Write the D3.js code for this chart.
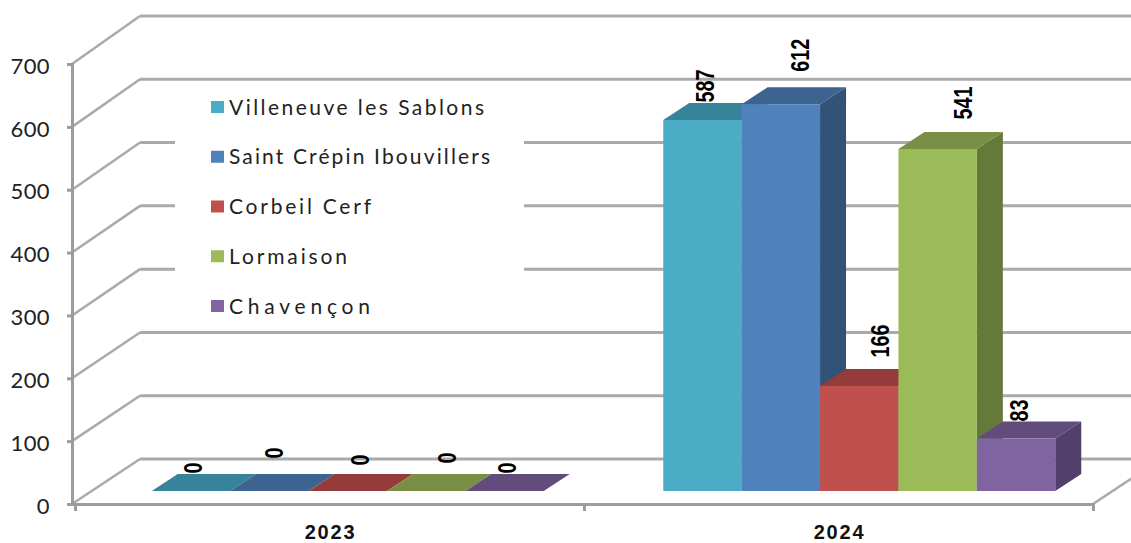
<!DOCTYPE html>
<html>
<head>
<meta charset="utf-8">
<script src="https://cdn.jsdelivr.net/npm/d3@7"></script>
<style>
  html, body { margin: 0; padding: 0; background: #fff; }
  svg { display: block; }
  .soft { filter: blur(0.6px); }
</style>
</head>
<body>
<div id="chart"></div>
<script>
// Data
var years = ['2023', '2024'];
var towns = ['Villeneuve les Sablons', 'Saint Crépin Ibouvillers', 'Corbeil Cerf', 'Lormaison', 'Chavençon'];
var values2023 = [0, 0, 0, 0, 0];
var values2024 = [587, 612, 166, 541, 83];
var yTicks = [0, 100, 200, 300, 400, 500, 600, 700];

// Color constants
var FRONT = ['#4BACC6', '#4F81BD', '#C0504D', '#9BBB59', '#8064A2'];
var TOP   = ['#37839A', '#3D6491', '#943C3A', '#788F45', '#624C7C'];
var SIDE  = ['#2F7085', '#325278', '#7E3230', '#657A3A', '#533F6B'];
var GRID = '#aaaaaa', AXIS = '#9c9c9c', TEXT = '#222';

// Size constants
var WIDTH = 1131, HEIGHT = 543,
    WALL_DX = 68,                  // depth of the floor
    BAR_DX = 26, BAR_DY = -17;     // depth of one bar

// Hand placed data labels, offset from the centre of the bar top
var LABEL_NUDGE = [
  [[2, -23], [5, -38], [12, -31], [21, -33], [2, -23]],
  [[2, -34], [19, -49], [21, -45], [25, -46], [3, -28]]
];
// Legend text is stretched to these widths, px
var LEGEND_WIDTHS = [255, 261, 142, 118, 141];

var svg = d3.select('#chart').append('svg')
  .attr('width', WIDTH)
  .attr('height', HEIGHT);

var y = d3.scaleLinear().domain([0, 700]).range([504, 64]);
var yBack = d3.scaleLinear().domain([0, 700]).range([459, 16]);
var yBar = d3.scaleLinear().domain([0, 700]).range([491, 48.6]);
var xAxisScale = d3.scaleBand().domain(years).range([75, 1093]);
var xBar = d3.scaleBand().domain(years).range([92, 1115]);
var xTown = d3.scaleBand().domain(towns).range([0, 392]);

// Walls: gridlines along the back, diagonals down to the axis
var walls = svg.append('g').attr('class', 'soft');
walls.selectAll('line.back').data(yTicks).enter().append('line')
  .attr('class', 'back')
  .attr('x1', 72 + WALL_DX).attr('x2', WIDTH)
  .attr('y1', function(d) { return yBack(d); })
  .attr('y2', function(d) { return yBack(d); })
  .attr('stroke', GRID).attr('stroke-width', 3);
walls.selectAll('line.diag').data(yTicks).enter().append('line')
  .attr('class', 'diag')
  .attr('x1', 72).attr('x2', 72 + WALL_DX)
  .attr('y1', function(d) { return y(d); })
  .attr('y2', function(d) { return yBack(d); })
  .attr('stroke', GRID).attr('stroke-width', 2.5);
walls.append('line')
  .attr('x1', 1093).attr('y1', y(0))
  .attr('x2', 1093 + WALL_DX).attr('y2', yBack(0))
  .attr('stroke', GRID).attr('stroke-width', 2.5);

// Axes
var yAxis = svg.append('g').attr('class', 'soft')
  .attr('transform', 'translate(72,0)')
  .call(d3.axisLeft(y).tickValues(yTicks).tickSize(5).tickPadding(0).tickFormat(''));
var xAxis = svg.append('g').attr('class', 'soft')
  .attr('transform', 'translate(0,' + y(0) + ')')
  .call(d3.axisBottom(d3.scalePoint().domain(['a', 'b', 'c']).range([75, 1093])).tickSize(7).tickFormat(''));
yAxis.selectAll('path, line').attr('stroke', AXIS).attr('stroke-width', 3);
xAxis.selectAll('path, line').attr('stroke', AXIS).attr('stroke-width', 3);

svg.append('g').selectAll('text').data(yTicks).enter().append('text')
  .attr('x', 50)
  .attr('y', function(d) { return y(d); })
  .attr('dy', '0.44em')
  .attr('text-anchor', 'end')
  .attr('font-family', 'Lato')
  .attr('font-size', '22px')
  .attr('letter-spacing', '0.4px')
  .attr('fill', TEXT)
  .text(function(d) { return d; });

svg.append('g').selectAll('text').data(years).enter().append('text')
  .attr('x', function(d) { return xAxisScale(d) + xAxisScale.bandwidth() / 2 + 1; })
  .attr('y', 539)
  .attr('text-anchor', 'middle')
  .attr('font-family', 'Liberation Sans')
  .attr('font-weight', 'bold')
  .attr('font-size', '20px')
  .attr('letter-spacing', '1.8px')
  .attr('fill', '#111')
  .text(function(d) { return d; });

// Bars, left to right so each one covers the side of the previous one
function facePath(x0, x1, yTop, yBase, part) {
  var p = d3.path();
  if (part === 'top') {
    p.moveTo(x0, yTop);
    p.lineTo(x0 + BAR_DX, yTop + BAR_DY);
    p.lineTo(x1 + BAR_DX, yTop + BAR_DY);
    p.lineTo(x1, yTop);
  } else if (part === 'side') {
    p.moveTo(x1, yTop);
    p.lineTo(x1 + BAR_DX, yTop + BAR_DY);
    p.lineTo(x1 + BAR_DX, yBase + BAR_DY);
    p.lineTo(x1, yBase);
  } else {
    p.rect(x0, yTop, x1 - x0, yBase - yTop);
  }
  p.closePath();
  return p.toString();
}

var bars = svg.append('g').attr('class', 'soft');
[values2023, values2024].forEach(function(values, yearIdx) {
  var start = xBar(years[yearIdx]) + (xBar.bandwidth() - 392) / 2;
  values.forEach(function(v, i) {
    var x0 = start + xTown(towns[i]);
    var x1 = x0 + xTown.bandwidth();
    bars.append('path').attr('d', facePath(x0, x1, yBar(v), yBar(0), 'side')).attr('fill', SIDE[i]);
    bars.append('path').attr('d', facePath(x0, x1, yBar(v), yBar(0), 'top')).attr('fill', TOP[i]);
    if (v > 0) {
      bars.append('path').attr('d', facePath(x0, x1, yBar(v), yBar(0), 'front')).attr('fill', FRONT[i]);
    }
  });
});

// Data labels, turned a quarter and squeezed along the reading direction
var labels = svg.append('g');
[values2023, values2024].forEach(function(values, yearIdx) {
  var start = xBar(years[yearIdx]) + (xBar.bandwidth() - 392) / 2;
  values.forEach(function(v, i) {
    var cx = start + xTown(towns[i]) + xTown.bandwidth() / 2 + LABEL_NUDGE[yearIdx][i][0];
    var cy = yBar(v) + LABEL_NUDGE[yearIdx][i][1];
    labels.append('text')
      .attr('transform', 'translate(' + cx + ',' + cy + ') rotate(-90) scale(0.9,1.15)')
      .attr('dy', '0.36em')
      .attr('text-anchor', 'middle')
      .attr('font-family', 'Liberation Sans')
      .attr('font-weight', 'bold')
      .attr('font-size', '22px')
      .attr('fill', '#000')
      .text(v);
  });
});

// Legend sits on a white box that hides the gridlines
var legend = svg.append('g');
legend.append('rect')
  .attr('x', 175).attr('y', 90)
  .attr('width', 349).attr('height', 240)
  .attr('fill', '#fff');
var legendY = d3.scalePoint().domain(towns).range([107, 306]);
legend.selectAll('rect.key').data(towns).enter().append('rect')
  .attr('class', 'key')
  .attr('x', 211)
  .attr('y', function(d) { return legendY(d) - 6; })
  .attr('width', 13).attr('height', 12)
  .attr('fill', function(d, i) { return FRONT[i]; });
legend.selectAll('text').data(towns).enter().append('text')
  .attr('x', 229)
  .attr('y', function(d) { return legendY(d); })
  .attr('dy', '0.36em')
  .attr('font-family', 'Lato')
  .attr('font-size', '21px')
  .attr('textLength', function(d, i) { return LEGEND_WIDTHS[i]; })
  .attr('lengthAdjust', 'spacing')
  .attr('fill', TEXT)
  .text(function(d) { return d; });
</script>
</body>
</html>
